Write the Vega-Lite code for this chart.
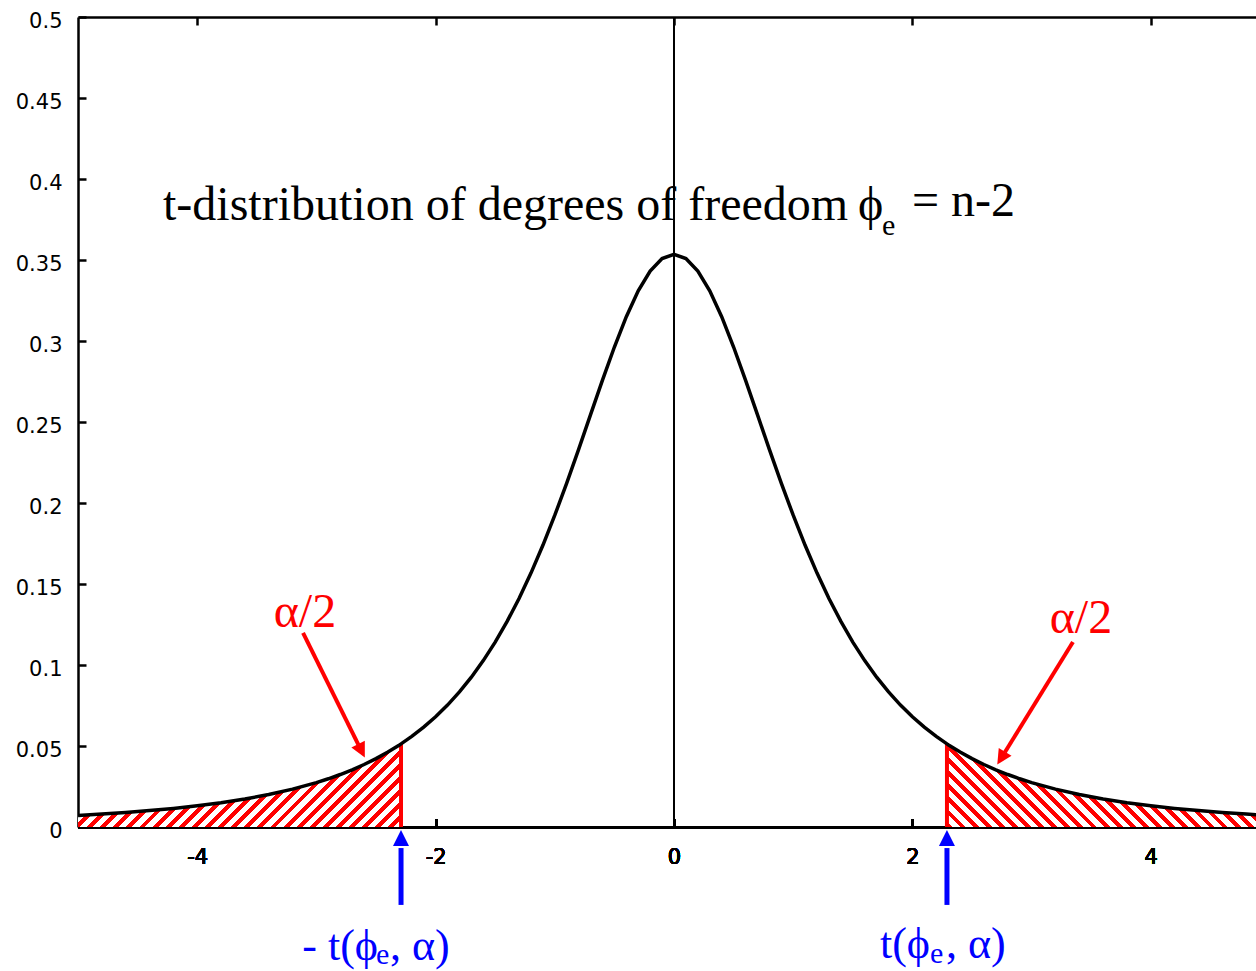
{
  "$schema": "https://vega.github.io/schema/vega-lite/v6.json",
  "width": 1178,
  "height": 810,
  "autosize": "none",
  "padding": {"left": 78, "top": 17, "right": 0, "bottom": 144},
  "background": "white",
  "config": {
    "view": {"stroke": null},
    "axis": {"grid": false}
  },
  "datasets": {
    "curve": [
      {"x": -5.0, "y": 0.00713}, {"x": -4.8, "y": 0.00798}, {"x": -4.6, "y": 0.00897}, {"x": -4.4, "y": 0.01013},
      {"x": -4.2, "y": 0.01149}, {"x": -4.0, "y": 0.01309}, {"x": -3.8, "y": 0.015}, {"x": -3.6, "y": 0.01728},
      {"x": -3.4, "y": 0.02003}, {"x": -3.2, "y": 0.02335}, {"x": -3.0, "y": 0.02741}, {"x": -2.9, "y": 0.02977},
      {"x": -2.8, "y": 0.0324}, {"x": -2.7, "y": 0.03532}, {"x": -2.6, "y": 0.03857}, {"x": -2.5, "y": 0.0422},
      {"x": -2.4, "y": 0.04626}, {"x": -2.3, "y": 0.05081}, {"x": -2.29, "y": 0.05129}, {"x": -2.2, "y": 0.0559},
      {"x": -2.1, "y": 0.06162}, {"x": -2.0, "y": 0.06804}, {"x": -1.9, "y": 0.07526}, {"x": -1.8, "y": 0.08337},
      {"x": -1.7, "y": 0.09248}, {"x": -1.6, "y": 0.1027}, {"x": -1.5, "y": 0.11413}, {"x": -1.4, "y": 0.1269},
      {"x": -1.3, "y": 0.14108}, {"x": -1.2, "y": 0.15673}, {"x": -1.1, "y": 0.17388}, {"x": -1.0, "y": 0.19245},
      {"x": -0.9, "y": 0.21229}, {"x": -0.8, "y": 0.23312}, {"x": -0.7, "y": 0.25451}, {"x": -0.6, "y": 0.27582},
      {"x": -0.5, "y": 0.2963}, {"x": -0.4, "y": 0.315}, {"x": -0.3, "y": 0.33097}, {"x": -0.2, "y": 0.3432},
      {"x": -0.1, "y": 0.35092}, {"x": 0.0, "y": 0.35355}, {"x": 0.1, "y": 0.35092}, {"x": 0.2, "y": 0.3432},
      {"x": 0.3, "y": 0.33097}, {"x": 0.4, "y": 0.315}, {"x": 0.5, "y": 0.2963}, {"x": 0.6, "y": 0.27582},
      {"x": 0.7, "y": 0.25451}, {"x": 0.8, "y": 0.23312}, {"x": 0.9, "y": 0.21229}, {"x": 1.0, "y": 0.19245},
      {"x": 1.1, "y": 0.17388}, {"x": 1.2, "y": 0.15673}, {"x": 1.3, "y": 0.14108}, {"x": 1.4, "y": 0.1269},
      {"x": 1.5, "y": 0.11413}, {"x": 1.6, "y": 0.1027}, {"x": 1.7, "y": 0.09248}, {"x": 1.8, "y": 0.08337},
      {"x": 1.9, "y": 0.07526}, {"x": 2.0, "y": 0.06804}, {"x": 2.1, "y": 0.06162}, {"x": 2.2, "y": 0.0559},
      {"x": 2.29, "y": 0.05129}, {"x": 2.3, "y": 0.05081}, {"x": 2.4, "y": 0.04626}, {"x": 2.5, "y": 0.0422},
      {"x": 2.6, "y": 0.03857}, {"x": 2.7, "y": 0.03532}, {"x": 2.8, "y": 0.0324}, {"x": 2.9, "y": 0.02977},
      {"x": 3.0, "y": 0.02741}, {"x": 3.2, "y": 0.02335}, {"x": 3.4, "y": 0.02003}, {"x": 3.6, "y": 0.01728},
      {"x": 3.8, "y": 0.015}, {"x": 4.0, "y": 0.01309}, {"x": 4.2, "y": 0.01149}, {"x": 4.4, "y": 0.01013},
      {"x": 4.6, "y": 0.00897}, {"x": 4.8, "y": 0.00798}, {"x": 5.0, "y": 0.00713}
    ],
    "crit": [{"x": -2.29, "y": 0.05129, "y2": 0}, {"x": 2.29, "y": 0.05129, "y2": 0}],
    "zero": [{"x": 0, "y": 0, "y2": 0.5}],
    "shafts": [
      {"group": "red", "x": -3.112, "y": 0.1198, "x2": -2.648, "y2": 0.05086},
      {"group": "red", "x": 3.347, "y": 0.1142, "x2": 2.776, "y2": 0.04617},
      {"group": "blue", "x": -2.29, "y": -0.0481, "x2": -2.29, "y2": -0.013},
      {"group": "blue", "x": 2.29, "y": -0.0481, "x2": 2.29, "y2": -0.013}
    ],
    "heads": [
      {"id": "redL", "x": -2.622, "y": 0.04704},
      {"id": "redR", "x": 2.745, "y": 0.04247},
      {"id": "blue", "x": -2.29, "y": -0.0068},
      {"id": "blue", "x": 2.29, "y": -0.0068}
    ],
    "notes": [
      {"role": "title", "text": "t-distribution of degrees of freedom", "x": -4.287, "y": 0.3747},
      {"role": "title", "text": "ϕ", "x": 1.544, "y": 0.3747},
      {"role": "title", "text": "= n-2", "x": 1.997, "y": 0.3772},
      {"role": "titlesub", "text": "e", "x": 1.745, "y": 0.3654},
      {"role": "alpha", "text": "α/2", "x": -3.096, "y": 0.1235},
      {"role": "alpha", "text": "α/2", "x": 3.414, "y": 0.1198},
      {"role": "critR", "text": "- t(ϕ", "x": -2.483, "y": -0.0821},
      {"role": "critR", "text": "t(ϕ", "x": 2.148, "y": -0.0809},
      {"role": "critL", "text": ", α)", "x": -2.383, "y": -0.0821},
      {"role": "critL", "text": ", α)", "x": 2.282, "y": -0.0809},
      {"role": "critsub", "text": "e", "x": -2.5, "y": -0.0846},
      {"role": "critsub", "text": "e", "x": 2.148, "y": -0.0840}
    ]
  },
  "encoding": {
    "x": {"field": "x", "type": "quantitative", "scale": {"domain": [-5, 4.8826], "nice": false, "zero": false},
          "axis": {"orient": "bottom", "values": [-4, -2, 0, 2, 4], "labelExpr": "'' + datum.value", "title": null,
                   "domainColor": "black", "domainWidth": 2.5, "tickColor": "black", "tickWidth": 2.5, "tickSize": -8,
                   "labelColor": "black", "labelFont": "DejaVu Sans", "labelFontSize": 21, "labelFontWeight": "normal", "labelPadding": 27}},
    "y": {"field": "y", "type": "quantitative", "scale": {"domain": [0, 0.5], "nice": false, "zero": false},
          "axis": {"orient": "left", "values": [0, 0.05, 0.1, 0.15, 0.2, 0.25, 0.3, 0.35, 0.4, 0.45, 0.5], "labelExpr": "'' + datum.value", "title": null,
                   "domainColor": "black", "domainWidth": 2.5, "tickColor": "black", "tickWidth": 2.5, "tickSize": -8,
                   "labelColor": "black", "labelFont": "DejaVu Sans", "labelFontSize": 21, "labelFontWeight": "normal", "labelPadding": 24, "labelOffset": 4}}
  },
  "layer": [
    {
      "data": {"name": "curve"},
      "transform": [{"filter": "datum.x <= -2.29"}],
      "mark": {
        "type": "area", "clip": true, "opacity": 1,
        "fill": {
          "gradient": "linear", "x1": 0, "y1": 0, "x2": 1.1793, "y2": 0.3034,
          "stops": [
            {"offset":0,"color":"red"},{"offset":0.0145,"color":"red"},{"offset":0.0145,"color":"white"},{"offset":0.0323,"color":"white"},
            {"offset":0.0323,"color":"red"},{"offset":0.0468,"color":"red"},{"offset":0.0468,"color":"white"},{"offset":0.0645,"color":"white"},
            {"offset":0.0645,"color":"red"},{"offset":0.079,"color":"red"},{"offset":0.079,"color":"white"},{"offset":0.0968,"color":"white"},
            {"offset":0.0968,"color":"red"},{"offset":0.1113,"color":"red"},{"offset":0.1113,"color":"white"},{"offset":0.129,"color":"white"},
            {"offset":0.129,"color":"red"},{"offset":0.1435,"color":"red"},{"offset":0.1435,"color":"white"},{"offset":0.1613,"color":"white"},
            {"offset":0.1613,"color":"red"},{"offset":0.1758,"color":"red"},{"offset":0.1758,"color":"white"},{"offset":0.1935,"color":"white"},
            {"offset":0.1935,"color":"red"},{"offset":0.208,"color":"red"},{"offset":0.208,"color":"white"},{"offset":0.2258,"color":"white"},
            {"offset":0.2258,"color":"red"},{"offset":0.2403,"color":"red"},{"offset":0.2403,"color":"white"},{"offset":0.2581,"color":"white"},
            {"offset":0.2581,"color":"red"},{"offset":0.2726,"color":"red"},{"offset":0.2726,"color":"white"},{"offset":0.2903,"color":"white"},
            {"offset":0.2903,"color":"red"},{"offset":0.3048,"color":"red"},{"offset":0.3048,"color":"white"},{"offset":0.3226,"color":"white"},
            {"offset":0.3226,"color":"red"},{"offset":0.3371,"color":"red"},{"offset":0.3371,"color":"white"},{"offset":0.3548,"color":"white"},
            {"offset":0.3548,"color":"red"},{"offset":0.3693,"color":"red"},{"offset":0.3693,"color":"white"},{"offset":0.3871,"color":"white"},
            {"offset":0.3871,"color":"red"},{"offset":0.4016,"color":"red"},{"offset":0.4016,"color":"white"},{"offset":0.4194,"color":"white"},
            {"offset":0.4194,"color":"red"},{"offset":0.4339,"color":"red"},{"offset":0.4339,"color":"white"},{"offset":0.4516,"color":"white"},
            {"offset":0.4516,"color":"red"},{"offset":0.4661,"color":"red"},{"offset":0.4661,"color":"white"},{"offset":0.4839,"color":"white"},
            {"offset":0.4839,"color":"red"},{"offset":0.4984,"color":"red"},{"offset":0.4984,"color":"white"},{"offset":0.5161,"color":"white"},
            {"offset":0.5161,"color":"red"},{"offset":0.5306,"color":"red"},{"offset":0.5306,"color":"white"},{"offset":0.5484,"color":"white"},
            {"offset":0.5484,"color":"red"},{"offset":0.5629,"color":"red"},{"offset":0.5629,"color":"white"},{"offset":0.5806,"color":"white"},
            {"offset":0.5806,"color":"red"},{"offset":0.5951,"color":"red"},{"offset":0.5951,"color":"white"},{"offset":0.6129,"color":"white"},
            {"offset":0.6129,"color":"red"},{"offset":0.6274,"color":"red"},{"offset":0.6274,"color":"white"},{"offset":0.6452,"color":"white"},
            {"offset":0.6452,"color":"red"},{"offset":0.6597,"color":"red"},{"offset":0.6597,"color":"white"},{"offset":0.6774,"color":"white"},
            {"offset":0.6774,"color":"red"},{"offset":0.6919,"color":"red"},{"offset":0.6919,"color":"white"},{"offset":0.7097,"color":"white"},
            {"offset":0.7097,"color":"red"},{"offset":0.7242,"color":"red"},{"offset":0.7242,"color":"white"},{"offset":0.7419,"color":"white"},
            {"offset":0.7419,"color":"red"},{"offset":0.7564,"color":"red"},{"offset":0.7564,"color":"white"},{"offset":0.7742,"color":"white"},
            {"offset":0.7742,"color":"red"},{"offset":0.7887,"color":"red"},{"offset":0.7887,"color":"white"},{"offset":0.8065,"color":"white"},
            {"offset":0.8065,"color":"red"},{"offset":0.821,"color":"red"},{"offset":0.821,"color":"white"},{"offset":0.8387,"color":"white"},
            {"offset":0.8387,"color":"red"},{"offset":0.8532,"color":"red"},{"offset":0.8532,"color":"white"},{"offset":0.871,"color":"white"},
            {"offset":0.871,"color":"red"},{"offset":0.8855,"color":"red"},{"offset":0.8855,"color":"white"},{"offset":0.9032,"color":"white"},
            {"offset":0.9032,"color":"red"},{"offset":0.9177,"color":"red"},{"offset":0.9177,"color":"white"},{"offset":0.9355,"color":"white"},
            {"offset":0.9355,"color":"red"},{"offset":0.95,"color":"red"},{"offset":0.95,"color":"white"},{"offset":0.9677,"color":"white"},
            {"offset":0.9677,"color":"red"},{"offset":0.9822,"color":"red"},{"offset":0.9822,"color":"white"},{"offset":1,"color":"white"}
          ]
        }
      }
    },
    {
      "data": {"name": "curve"},
      "transform": [{"filter": "datum.x >= 2.29"}],
      "mark": {
        "type": "area", "clip": true, "opacity": 1,
        "fill": {
          "gradient": "linear", "x1": 0, "y1": 1, "x2": 1.1793, "y2": 0.6966,
          "stops": [
            {"offset":0,"color":"red"},{"offset":0.0145,"color":"red"},{"offset":0.0145,"color":"white"},{"offset":0.0323,"color":"white"},
            {"offset":0.0323,"color":"red"},{"offset":0.0468,"color":"red"},{"offset":0.0468,"color":"white"},{"offset":0.0645,"color":"white"},
            {"offset":0.0645,"color":"red"},{"offset":0.079,"color":"red"},{"offset":0.079,"color":"white"},{"offset":0.0968,"color":"white"},
            {"offset":0.0968,"color":"red"},{"offset":0.1113,"color":"red"},{"offset":0.1113,"color":"white"},{"offset":0.129,"color":"white"},
            {"offset":0.129,"color":"red"},{"offset":0.1435,"color":"red"},{"offset":0.1435,"color":"white"},{"offset":0.1613,"color":"white"},
            {"offset":0.1613,"color":"red"},{"offset":0.1758,"color":"red"},{"offset":0.1758,"color":"white"},{"offset":0.1935,"color":"white"},
            {"offset":0.1935,"color":"red"},{"offset":0.208,"color":"red"},{"offset":0.208,"color":"white"},{"offset":0.2258,"color":"white"},
            {"offset":0.2258,"color":"red"},{"offset":0.2403,"color":"red"},{"offset":0.2403,"color":"white"},{"offset":0.2581,"color":"white"},
            {"offset":0.2581,"color":"red"},{"offset":0.2726,"color":"red"},{"offset":0.2726,"color":"white"},{"offset":0.2903,"color":"white"},
            {"offset":0.2903,"color":"red"},{"offset":0.3048,"color":"red"},{"offset":0.3048,"color":"white"},{"offset":0.3226,"color":"white"},
            {"offset":0.3226,"color":"red"},{"offset":0.3371,"color":"red"},{"offset":0.3371,"color":"white"},{"offset":0.3548,"color":"white"},
            {"offset":0.3548,"color":"red"},{"offset":0.3693,"color":"red"},{"offset":0.3693,"color":"white"},{"offset":0.3871,"color":"white"},
            {"offset":0.3871,"color":"red"},{"offset":0.4016,"color":"red"},{"offset":0.4016,"color":"white"},{"offset":0.4194,"color":"white"},
            {"offset":0.4194,"color":"red"},{"offset":0.4339,"color":"red"},{"offset":0.4339,"color":"white"},{"offset":0.4516,"color":"white"},
            {"offset":0.4516,"color":"red"},{"offset":0.4661,"color":"red"},{"offset":0.4661,"color":"white"},{"offset":0.4839,"color":"white"},
            {"offset":0.4839,"color":"red"},{"offset":0.4984,"color":"red"},{"offset":0.4984,"color":"white"},{"offset":0.5161,"color":"white"},
            {"offset":0.5161,"color":"red"},{"offset":0.5306,"color":"red"},{"offset":0.5306,"color":"white"},{"offset":0.5484,"color":"white"},
            {"offset":0.5484,"color":"red"},{"offset":0.5629,"color":"red"},{"offset":0.5629,"color":"white"},{"offset":0.5806,"color":"white"},
            {"offset":0.5806,"color":"red"},{"offset":0.5951,"color":"red"},{"offset":0.5951,"color":"white"},{"offset":0.6129,"color":"white"},
            {"offset":0.6129,"color":"red"},{"offset":0.6274,"color":"red"},{"offset":0.6274,"color":"white"},{"offset":0.6452,"color":"white"},
            {"offset":0.6452,"color":"red"},{"offset":0.6597,"color":"red"},{"offset":0.6597,"color":"white"},{"offset":0.6774,"color":"white"},
            {"offset":0.6774,"color":"red"},{"offset":0.6919,"color":"red"},{"offset":0.6919,"color":"white"},{"offset":0.7097,"color":"white"},
            {"offset":0.7097,"color":"red"},{"offset":0.7242,"color":"red"},{"offset":0.7242,"color":"white"},{"offset":0.7419,"color":"white"},
            {"offset":0.7419,"color":"red"},{"offset":0.7564,"color":"red"},{"offset":0.7564,"color":"white"},{"offset":0.7742,"color":"white"},
            {"offset":0.7742,"color":"red"},{"offset":0.7887,"color":"red"},{"offset":0.7887,"color":"white"},{"offset":0.8065,"color":"white"},
            {"offset":0.8065,"color":"red"},{"offset":0.821,"color":"red"},{"offset":0.821,"color":"white"},{"offset":0.8387,"color":"white"},
            {"offset":0.8387,"color":"red"},{"offset":0.8532,"color":"red"},{"offset":0.8532,"color":"white"},{"offset":0.871,"color":"white"},
            {"offset":0.871,"color":"red"},{"offset":0.8855,"color":"red"},{"offset":0.8855,"color":"white"},{"offset":0.9032,"color":"white"},
            {"offset":0.9032,"color":"red"},{"offset":0.9177,"color":"red"},{"offset":0.9177,"color":"white"},{"offset":0.9355,"color":"white"},
            {"offset":0.9355,"color":"red"},{"offset":0.95,"color":"red"},{"offset":0.95,"color":"white"},{"offset":0.9677,"color":"white"},
            {"offset":0.9677,"color":"red"},{"offset":0.9822,"color":"red"},{"offset":0.9822,"color":"white"},{"offset":1,"color":"white"}
          ]
        }
      }
    },
    {
      "data": {"name": "crit"},
      "mark": {"type": "rule", "color": "red", "strokeWidth": 4},
      "encoding": {"y2": {"field": "y2"}}
    },
    {
      "data": {"name": "zero"},
      "mark": {"type": "rule", "color": "black", "strokeWidth": 2},
      "encoding": {
        "x": {"field": "x", "type": "quantitative", "scale": {"domain": [-5, 4.8826], "nice": false, "zero": false},
              "axis": {"orient": "top", "values": [-4, -2, 0, 2, 4], "labels": false, "title": null,
                       "domainColor": "black", "domainWidth": 2.5, "tickColor": "black", "tickWidth": 2.5, "tickSize": -8}},
        "y2": {"field": "y2"}
      }
    },
    {
      "data": {"name": "curve"},
      "mark": {"type": "line", "color": "black", "strokeWidth": 3.5, "clip": true}
    },
    {
      "data": {"name": "shafts"},
      "transform": [{"filter": "datum.group === 'red'"}],
      "mark": {"type": "rule", "color": "red", "strokeWidth": 4},
      "encoding": {"x2": {"field": "x2"}, "y2": {"field": "y2"}}
    },
    {
      "data": {"name": "shafts"},
      "transform": [{"filter": "datum.group === 'blue'"}],
      "mark": {"type": "rule", "color": "blue", "strokeWidth": 5},
      "encoding": {"x2": {"field": "x2"}, "y2": {"field": "y2"}}
    },
    {
      "data": {"name": "heads"},
      "transform": [{"filter": "datum.id === 'redL'"}],
      "mark": {"type": "point", "shape": "M0,-1L1,1L-1,1Z", "filled": true, "color": "red", "opacity": 1, "size": 225, "angle": 153.6, "strokeWidth": 0}
    },
    {
      "data": {"name": "heads"},
      "transform": [{"filter": "datum.id === 'redR'"}],
      "mark": {"type": "point", "shape": "M0,-1L1,1L-1,1Z", "filled": true, "color": "red", "opacity": 1, "size": 225, "angle": 211.7, "strokeWidth": 0}
    },
    {
      "data": {"name": "heads"},
      "transform": [{"filter": "datum.id === 'blue'"}],
      "mark": {"type": "point", "shape": "M0,-1L1,1L-1,1Z", "filled": true, "color": "blue", "opacity": 1, "size": 256, "strokeWidth": 0}
    },
    {
      "data": {"name": "notes"},
      "transform": [{"filter": "datum.role === 'title'"}],
      "mark": {"type": "text", "font": "Liberation Serif", "fontSize": 48, "align": "left", "baseline": "alphabetic", "color": "black"},
      "encoding": {"text": {"field": "text"}}
    },
    {
      "data": {"name": "notes"},
      "transform": [{"filter": "datum.role === 'titlesub'"}],
      "mark": {"type": "text", "font": "Liberation Serif", "fontSize": 30, "align": "left", "baseline": "alphabetic", "color": "black"},
      "encoding": {"text": {"field": "text"}}
    },
    {
      "data": {"name": "notes"},
      "transform": [{"filter": "datum.role === 'alpha'"}],
      "mark": {"type": "text", "font": "Liberation Serif", "fontSize": 48, "align": "center", "baseline": "alphabetic", "color": "red"},
      "encoding": {"text": {"field": "text"}}
    },
    {
      "data": {"name": "notes"},
      "transform": [{"filter": "datum.role === 'critR'"}],
      "mark": {"type": "text", "font": "Liberation Serif", "fontSize": 44, "align": "right", "baseline": "alphabetic", "color": "blue"},
      "encoding": {"text": {"field": "text"}}
    },
    {
      "data": {"name": "notes"},
      "transform": [{"filter": "datum.role === 'critL'"}],
      "mark": {"type": "text", "font": "Liberation Serif", "fontSize": 44, "align": "left", "baseline": "alphabetic", "color": "blue"},
      "encoding": {"text": {"field": "text"}}
    },
    {
      "data": {"name": "notes"},
      "transform": [{"filter": "datum.role === 'critsub'"}],
      "mark": {"type": "text", "font": "Liberation Serif", "fontSize": 30, "align": "left", "baseline": "alphabetic", "color": "blue"},
      "encoding": {"text": {"field": "text"}}
    }
  ]
}
